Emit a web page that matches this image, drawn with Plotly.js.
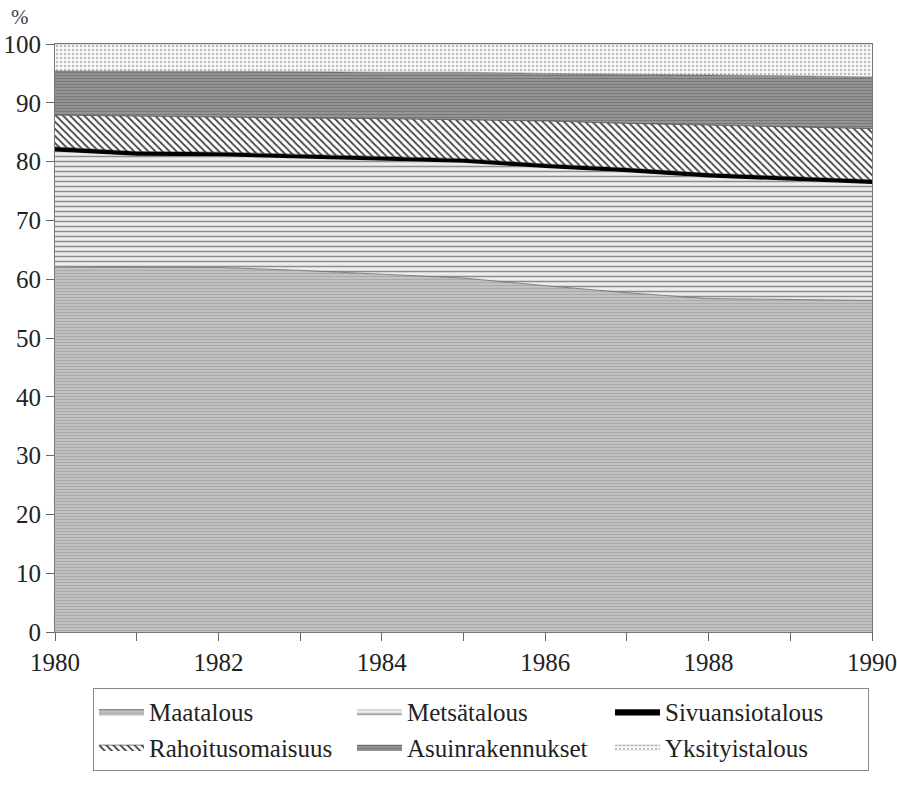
<!DOCTYPE html>
<html>
<head>
<meta charset="utf-8">
<script src="https://cdn.plot.ly/plotly-3.0.1.min.js"></script>
<style>html,body{margin:0;padding:0;background:#fff;}#chart{width:897px;height:785px;}</style>
</head>
<body>
<div id="chart"></div>
<script>
// Years
var years = [1980, 1981, 1982, 1983, 1984, 1985, 1986, 1987, 1988, 1989, 1990];
// Shares of household wealth, %
var maatalous        = [62.1, 62.1, 62.0, 61.5, 60.8, 60.2, 58.9, 57.7, 56.7, 56.5, 56.4];
var metsatalous      = [19.6, 18.9, 18.9, 19.0, 19.4, 19.6, 20.0, 20.5, 20.6, 20.3, 19.8];
var sivuansiotalous  = [0.8, 0.7, 0.7, 0.7, 0.7, 0.7, 0.7, 0.7, 0.7, 0.7, 0.7];
var rahoitusomaisuus = [5.4, 6.0, 6.0, 6.2, 6.4, 6.6, 7.3, 7.6, 8.2, 8.4, 8.7];
var asuinrakennukset = [7.5, 7.7, 7.7, 7.9, 7.9, 8.1, 8.1, 8.4, 8.5, 8.7, 8.8];
var yksityistalous   = [4.6, 4.6, 4.7, 4.7, 4.8, 4.8, 5.0, 5.1, 5.3, 5.4, 5.6];

var xTickVals = [1980, 1982, 1984, 1986, 1988, 1990];
var yTickVals = [0, 10, 20, 30, 40, 50, 60, 70, 80, 90, 100];

var serif = "'Times New Roman', Times, 'Liberation Serif', 'DejaVu Serif', serif";

function area(name, y, fillcolor, pattern, lineColor, lineWidth) {
  var t = {
    x: years, y: y, name: name, type: 'scatter', mode: 'lines',
    stackgroup: 'one',
    line: {color: lineColor, width: lineWidth},
    fillcolor: fillcolor,
    hoverinfo: 'skip'
  };
  if (pattern) t.fillpattern = pattern;
  return t;
}

var data = [
  area('Maatalous', maatalous, '#c2c2c2',
       {shape: '-', fgcolor: '#aaaaaa', bgcolor: '#c4c4c4', size: 3, solidity: 0.4}, '#6a6a6a', 0.8),
  area('Metsätalous', metsatalous, '#e6e6e6',
       {shape: '-', fgcolor: '#8c8c8c', bgcolor: '#ededed', size: 5, solidity: 0.3}, '#777', 0),
  area('Sivuansiotalous', sivuansiotalous, '#000000', null, '#000', 0.5),
  area('Rahoitusomaisuus', rahoitusomaisuus, '#ffffff',
       {shape: '\\', fgcolor: '#444444', bgcolor: '#ffffff', size: 5, solidity: 0.35}, '#333', 0.6),
  area('Asuinrakennukset', asuinrakennukset, '#8e8e8e',
       {shape: '-', fgcolor: '#787878', bgcolor: '#9a9a9a', size: 3, solidity: 0.45}, '#555', 0.5),
  area('Yksityistalous', yksityistalous, '#f6f6f6',
       {shape: '.', fgcolor: '#bdbdbd', bgcolor: '#fafafa', size: 4, solidity: 0.3}, '#999', 0.5)
];

var layout = {
  width: 897, height: 785,
  margin: {l: 55, r: 25, t: 44, b: 153, autoexpand: false},
  paper_bgcolor: '#ffffff',
  plot_bgcolor: '#ffffff',
  font: {family: serif, size: 25, color: '#222'},
  showlegend: true,
  xaxis: {
    range: [1980, 1990],
    tickvals: xTickVals,
    ticks: 'outside', ticklen: 8, tickcolor: '#666', tickwidth: 1,
    minor: {dtick: 1, ticks: 'outside', ticklen: 8, tickcolor: '#666', tickwidth: 1, showgrid: false},
    showgrid: false, zeroline: false,
    showline: true, linecolor: '#777', linewidth: 1, mirror: true,
    tickfont: {family: serif, size: 25, color: '#222'}
  },
  yaxis: {
    range: [0, 100],
    tickvals: yTickVals,
    ticks: 'outside', ticklen: 8, tickcolor: '#666', tickwidth: 1,
    showgrid: false, zeroline: false,
    showline: true, linecolor: '#777', linewidth: 1, mirror: true,
    tickfont: {family: serif, size: 25, color: '#222'},
    ticklabelstandoff: 0
  },
  legend: {
    orientation: 'h',
    x: 0.0465, xanchor: 'left',
    y: -0.095, yanchor: 'top',
    entrywidth: 198, entrywidthmode: 'pixels',
    itemwidth: 45,
    traceorder: 'normal',
    bordercolor: '#888', borderwidth: 1,
    bgcolor: '#ffffff',
    font: {family: serif, size: 25, color: '#222'}
  },
  annotations: [{
    text: '%', xref: 'paper', yref: 'paper', x: -0.043, y: 1.0, yshift: 27,
    xanchor: 'center', yanchor: 'middle', showarrow: false,
    font: {family: serif, size: 21, color: '#444'}
  }]
};

Plotly.newPlot('chart', data, layout, {displayModeBar: false, staticPlot: true});
</script>
</body>
</html>
